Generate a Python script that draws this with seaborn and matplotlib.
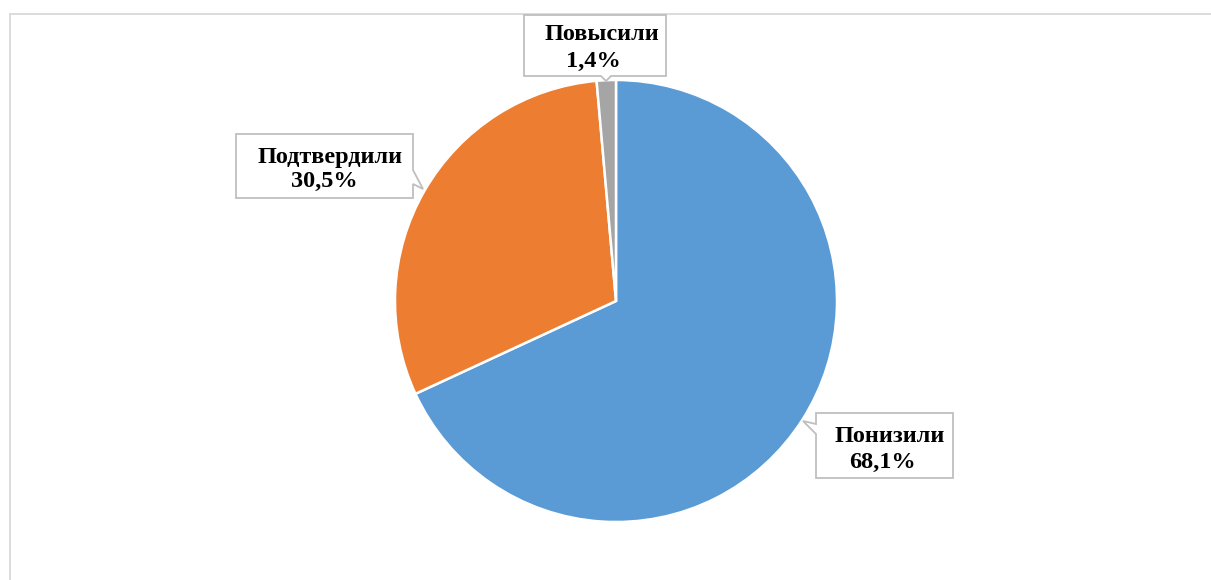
import matplotlib
matplotlib.use("Agg")
import matplotlib.pyplot as plt
from matplotlib.patches import Polygon, Rectangle
import seaborn as sns

# ---- data ----
categories = ["Понизили", "Подтвердили", "Повысили"]
shares = [68.1, 30.5, 1.4]
value_labels = ["68,1%", "30,5%", "1,4%"]
colors = ["#5B9BD5", "#ED7D31", "#A5A5A5"]

sns.set_theme(style="white")
plt.rcParams["font.family"] = ["Liberation Serif", "DejaVu Serif"]

W, H = 1211, 580
fig = plt.figure(figsize=(W / 100, H / 100), dpi=100)
ax = fig.add_axes([0, 0, 1, 1])

def Y(y):
    return H - y

ax.pie(shares, colors=colors, startangle=90, counterclock=False,
       center=(616, Y(301)), radius=221,
       wedgeprops=dict(edgecolor="white", linewidth=1.8))
ax.set_xlim(0, W)
ax.set_ylim(0, H)
ax.set_aspect("auto")
ax.axis("off")

# outer chart-area frame
ax.add_patch(Rectangle((9.5, Y(600)), 1300, 600 - 13.5, fill=False,
                       edgecolor="#D9D9D9", linewidth=1.3, clip_on=False, zorder=0))

# callout layouts (pixel space): box, pointer polygon, name pos, value pos
callouts = {
    "Понизили": dict(
        poly=[(816, 413), (953, 413), (953, 478), (816, 478), (816, 434), (803, 421), (816, 424)],
        name=(889.5, 442), value=(882.5, 468)),
    "Подтвердили": dict(
        poly=[(236, 134), (413, 134), (413, 170), (423, 189), (413, 184), (413, 198), (236, 198)],
        name=(330, 163), value=(324, 187)),
    "Повысили": dict(
        poly=[(524, 15), (666, 15), (666, 76), (611, 76), (606, 81), (601, 76), (524, 76)],
        name=(602, 40), value=(593, 67)),
}

FS = 17.5
for cat, val in zip(categories, value_labels):
    c = callouts[cat]
    pts = [(x, Y(y)) for x, y in c["poly"]]
    ax.add_patch(Polygon(pts, closed=True, facecolor="white", edgecolor="#BFBFBF",
                         linewidth=1.3, zorder=5, joinstyle="miter"))
    ax.text(c["name"][0], Y(c["name"][1]), cat, ha="center", va="baseline",
            fontsize=FS, fontweight="bold", color="#000000", zorder=6)
    ax.text(c["value"][0], Y(c["value"][1]), val, ha="center", va="baseline",
            fontsize=FS, fontweight="bold", color="#000000", zorder=6)

fig.savefig("out.png", dpi=100, facecolor="white")
